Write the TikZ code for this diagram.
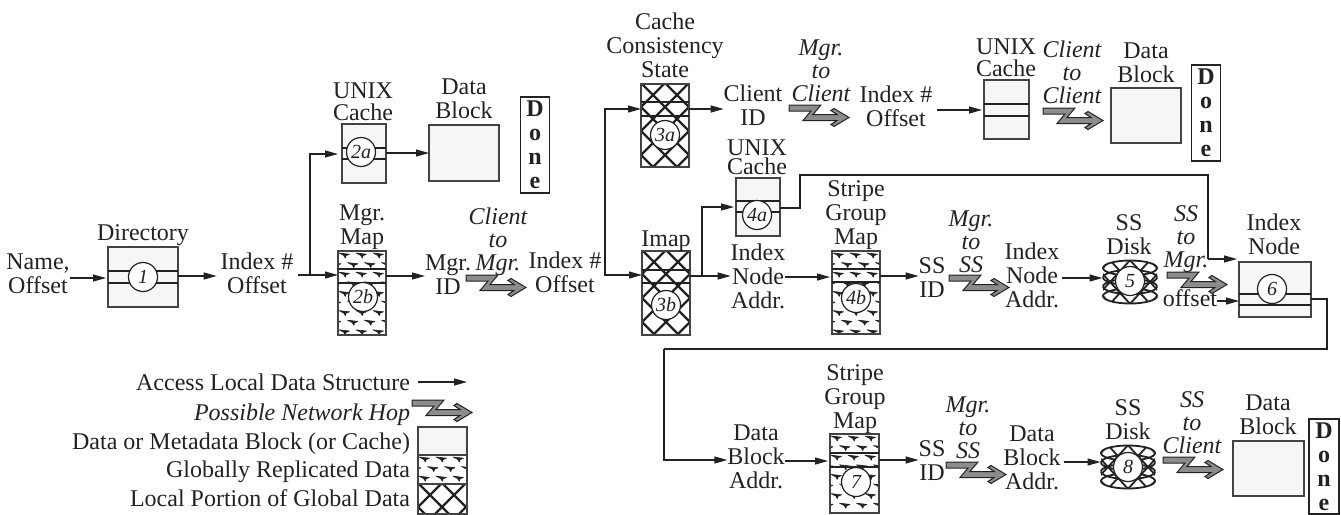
\documentclass[tikz,border=0pt]{standalone}
\usepackage{fontspec}
\setmainfont{Liberation Serif}
\usetikzlibrary{arrows.meta}
\definecolor{ink}{HTML}{222222}
\definecolor{paper}{HTML}{F6F6F6}
\tikzset{
  x=1pt,y=-1pt,
  lab/.style={inner sep=0pt,outer sep=0pt,align=center,text=ink,
    font=\fontsize{24}{24}\selectfont,
    execute at begin node=\strut,execute at end node=\strut},
  ital/.style={font=\fontsize{24}{23}\selectfont\itshape},
  tight/.style={font=\fontsize{24}{22}\selectfont},
  vtight/.style={font=\fontsize{24}{19}\selectfont},
  arr/.style={draw=ink,line width=1.2pt,-{Triangle[length=13pt,width=7pt]}},
  lin/.style={draw=ink,line width=1.2pt},
  boxb/.style={draw=ink!85,line width=1.4pt,inner sep=0pt,outer sep=0pt,rectangle},
  plain/.style={boxb,fill=paper},
  xh/.style={boxb,fill=white,path picture={
      \foreach \k in {-9,...,3}{\draw[ink,line width=2.3pt]
        ([shift={({1+24*\k},0)}]path picture bounding box.north west)--++(200,200);}
      \foreach \k in {0,...,12}{\draw[ink,line width=2.3pt]
        ([shift={({23+24*\k},0)}]path picture bounding box.north west)--++(-200,200);}
    }},
  gr/.style={boxb,fill=white,path picture={
      \foreach \r in {0,...,9}{
        \foreach \c in {-1,...,3}{
          \filldraw[ink,line width=.6pt,line join=round] ([shift={({\c*17+mod(\r,2)*8.5+1},{\r*9.6+2})}]path picture bounding box.north west)
            --++(10.5,1.2) --++(-3.4,1.4) --++(-.8,2.4) --++(-1.6,-2.6) --cycle;
        }}
    }},
  num/.style={circle,draw=ink,line width=1.2pt,fill=white,minimum size=29pt,inner sep=0pt,text=ink,
    font=\fontsize{20}{20}\selectfont\itshape},
  donebox/.style={draw=ink,line width=1.3pt,fill=white,inner sep=0pt,outer sep=0pt,align=center,text=ink,
    font=\fontsize{24}{24}\selectfont\bfseries},
  hop/.pic={\draw[ink,line width=1pt,fill=black!45,line join=miter]
    (0,0)--(32,0)--(24,9.5)--(48,9.5)--(42,5.5)--(45,3.5)--(60,12.5)--(45,21.5)--(42,19.5)--(48,15.5)--(14,15.5)--(22,6)--(0,6)--cycle;},
}
\newcommand{\lab}[5][]{\node[lab,#1] (#2) at (#3,#4+3) {#5};}
\newcommand{\bx}[6][plain]{\node[#1,minimum width={#5-#3},minimum height={#6-#4}] (#2) at ({(#3+#5)/2},{(#4+#6)/2}) {};}
\newcommand{\bands}[3]{\draw[lin] (#1.west |- 0,#2)--(#1.east |- 0,#2) (#1.west |- 0,#3)--(#1.east |- 0,#3);}
\newcommand{\disk}[3]{%
  \node[inner sep=0pt,outer sep=0pt,minimum width=55pt,minimum height=44pt] (#1) at (#2,#3) {};
  \begin{scope}[shift={(#1.center)}]
    \fill[white] (-27,-14) arc[x radius=27,y radius=8,start angle=180,end angle=360] -- (27,14) arc[x radius=27,y radius=8,start angle=0,end angle=180] -- cycle;
    \begin{scope}
      \clip (-27,-14) arc[x radius=27,y radius=8,start angle=180,end angle=360] -- (27,14) arc[x radius=27,y radius=8,start angle=0,end angle=180] -- cycle;
      \foreach \k in {-3,...,3}{
        \draw[ink,line width=1.8pt] ({\k*20-22},-24)--++(44,48);
        \draw[ink,line width=1.8pt] ({\k*20+22},-24)--++(-44,48);
      }
    \end{scope}
    \foreach \d in {-14,14}{\draw[ink,line width=1.8pt] (0,\d) ellipse[x radius=27,y radius=7.5];}
    \foreach \d in {-4.5,4.5}{\draw[ink,line width=1.8pt] (-27,\d) arc[x radius=27,y radius=7.5,start angle=180,end angle=360];
      \draw[ink,line width=1.8pt] (-27,\d) arc[x radius=27,y radius=7.5,start angle=180,end angle=0];}
  \end{scope}}
\begin{document}
\begin{tikzpicture}
\useasboundingbox (0,0) rectangle (1341,514);
% --- structures
\bx{dir}{108}{247}{178}{307}\bands{dir}{271}{283}
\bx{ua}{342}{124}{386}{183}\bands{ua}{148}{159}
\bx{dba}{429}{125}{499}{181}
\bx[gr]{mm}{338}{251}{386}{335}\bands{mm}{269}{283}
\bx[xh]{cc}{641}{84}{689}{167}\bands{cc}{102}{116}
\bx[xh]{im}{642}{251}{690}{335}\bands{im}{270}{283}
\bx{ub}{984}{80}{1029}{139}\bands{ub}{104}{116}
\bx{dbb}{1111}{88}{1181}{143}
\bx{uc}{736}{178}{780}{236}\bands{uc}{201}{212}
\bx[gr]{sa}{832}{251}{880}{334}\bands{sa}{269}{282}
\disk{da}{1130}{282}
\bx{ino}{1239}{262}{1311}{317}\bands{ino}{294}{305}
\bx[gr]{sb}{830}{434}{879}{513}\bands{sb}{453}{467}
\disk{db}{1128}{467}
\bx{dbc}{1233}{441}{1304}{496}
% --- numbers
\node[num] (n1) at (143,277) {1};
\node[num] (n2a) at (361,152) {2a};
\node[num] (n2b) at (363,297) {2b};
\node[num] (n3a) at (665,135) {3a};
\node[num] (n3b) at (666,305) {3b};
\node[num] (n4a) at (757,215) {4a};
\node[num] (n4b) at (856,298) {4b};
\node[num] (n5) at (1130,281) {5};
\node[num] (n6) at (1272,289) {6};
\node[num] (n7) at (856,482) {7};
\node[num] (n8) at (1128,467) {8};
% --- done
\node[donebox,minimum width=29pt,minimum height=96pt] (da1) at (535,145) {D\\o\\n\\e};
\node[donebox,minimum width=29pt,minimum height=96pt] (da2) at (1206,113) {D\\o\\n\\e};
\node[donebox,minimum width=30pt,minimum height=95pt] (da3) at (1324,466.5) {D\\o\\n\\e};
% --- labels
\lab{nm}{38}{274}{Name,\\Offset}
\lab{tdir}{143}{233}{Directory}
\lab{idxa}{257}{274}{Index \#\\Offset}
\lab[tight]{tua}{363}{102}{UNIX\\Cache}
\lab{tdba}{464}{99}{Data\\Block}
\lab{tmm}{362}{225}{Mgr.\\Map}
\lab{mid}{448}{275}{Mgr.\\ID}
\lab[ital]{h1t}{498}{240}{Client\\to\\Mgr.}
\lab{idxb}{565}{273}{Index \#\\Offset}
\lab{tcc}{665}{46}{Cache\\Consistency\\State}
\lab{cid}{753}{106}{Client\\ID}
\lab[ital]{h2t}{821}{71}{Mgr.\\to\\Client}
\lab{idxc}{896}{107}{Index \#\\Offset}
\lab[tight]{tub}{1006}{58}{UNIX\\Cache}
\lab[ital]{h3t}{1072}{73}{Client\\to\\Client}
\lab{tdbb}{1146}{63}{Data\\Block}
\lab{tim}{666}{239}{Imap}
\lab[vtight]{tuc}{757}{157}{UNIX\\Cache}
\lab{ina}{758}{277}{Index\\Node\\Addr.}
\lab{tsa}{856}{213}{Stripe\\Group\\Map}
\lab{ssa}{932}{278}{SS\\ID}
\lab[ital]{h4t}{971}{242}{Mgr.\\to\\SS}
\lab{inb}{1032}{276}{Index\\Node\\Addr.}
\lab{tda}{1129}{235}{SS\\Disk}
\lab[ital]{h5t}{1186}{237}{SS\\to\\Mgr.}
\lab{off}{1190}{299}{offset}
\lab{tin}{1274}{235}{Index\\Node}
\lab{dbx}{756}{457}{Data\\Block\\Addr.}
\lab{tsb}{855}{397}{Stripe\\Group\\Map}
\lab{ssb}{932}{461}{SS\\ID}
\lab[ital]{h6t}{968}{428}{Mgr.\\to\\SS}
\lab{dby}{1032}{458}{Data\\Block\\Addr.}
\lab{tdb}{1128}{420}{SS\\Disk}
\lab[ital]{h7t}{1192}{423}{SS\\to\\Client}
\lab{tdbc}{1268}{415}{Data\\Block}
% --- hops
\pic at (466,275) {hop};
\pic at (789,105) {hop};
\pic at (1043,108) {hop};
\pic at (949,275) {hop};
\pic at (1167,272) {hop};
\pic at (946,462) {hop};
\pic at (1163,457) {hop};
% --- connectors
\coordinate (ba) at (310,275);
\coordinate (bb) at (605,275);
\coordinate (bc) at (702,276);
\coordinate (ta) at (800,175);
\coordinate (tb) at (1208,259);
\coordinate (tc) at (1327,349);
\coordinate (td) at (664,349);
\draw[arr] (nm.east |- 0,278) -- ([xshift=-2pt]dir.west |- 0,278);
\draw[arr] (dir.east |- 0,276) -- ([xshift=-4pt]idxa.west |- 0,276);
\draw[arr] ([xshift=5pt]idxa.east |- 0,275) -- (mm.west |- 0,275);
\draw[arr] (ba) |- ([xshift=-4pt]ua.west |- 0,154);
\draw[arr] (ua.east |- 0,153) -- (dba.west |- 0,153);
\draw[arr] (mm.east |- 0,276) -- (mid.west |- 0,276);
\draw[arr] ([xshift=3pt]idxb.east |- 0,275) -- (im.west |- 0,275);
\draw[arr] (bb) |- (cc.west |- 0,109);
\draw[arr] (cc.east |- 0,109) -- (cid.west |- 0,109);
\draw[arr] ([xshift=5pt]idxc.east |- 0,110) -- ([xshift=-2pt]ub.west |- 0,110);
\draw[arr] (im.east |- 0,276) -- (ina.west |- 0,276);
\draw[arr] (bc) |- ([xshift=-2pt]uc.west |- 0,207);
\draw[lin] (uc.east |- 0,208) -| (ta) -- (ta -| tb) -- (tb);
\draw[arr] (tb) -- ([xshift=-2pt]ino.west |- tb);
\draw[arr] (ina.east |- 0,277) -- ([xshift=-2pt]sa.west |- 0,277);
\draw[arr] (sa.east |- 0,276) -- (ssa.west |- 0,276);
\draw[arr] ([xshift=3pt]inb.east |- 0,278) -- (da.west |- 0,278);
\draw[arr] (off.east |- 0,301) -- (ino.west |- 0,301);
\draw[lin] (ino.east |- 0,299) -| (tc) -- (td);
\draw[arr] (td) |- (dbx.west |- 0,460);
\draw[arr] (dbx.east |- 0,461) -- ([xshift=-2pt]sb.west |- 0,461);
\draw[arr] (sb.east |- 0,460) -- (ssb.west |- 0,460);
\draw[arr] ([xshift=3pt]dby.east |- 0,462) -- (db.west |- 0,462);
% --- legend
\node[lab,anchor=east] (la) at (410,386) {Access Local Data Structure};
\node[lab,ital,anchor=east] (lb) at (410,416) {Possible Network Hop};
\node[lab,anchor=east] (lc) at (410,445) {Data or Metadata Block (or Cache)};
\node[lab,anchor=east] (ld) at (410,473) {Globally Replicated Data};
\node[lab,anchor=east] (le) at (410,502) {Local Portion of Global Data};
\bx{lgc}{418}{427}{467}{455}
\bx[gr]{lgd}{418}{455}{467}{484}
\bx[xh]{lge}{418}{484}{467}{514}
\coordinate (lga) at (418,382);
\coordinate (lgb) at (467,382);
\draw[arr] (lga) -- (lgb);
\pic at (412,400) {hop};
\end{tikzpicture}
\end{document}
